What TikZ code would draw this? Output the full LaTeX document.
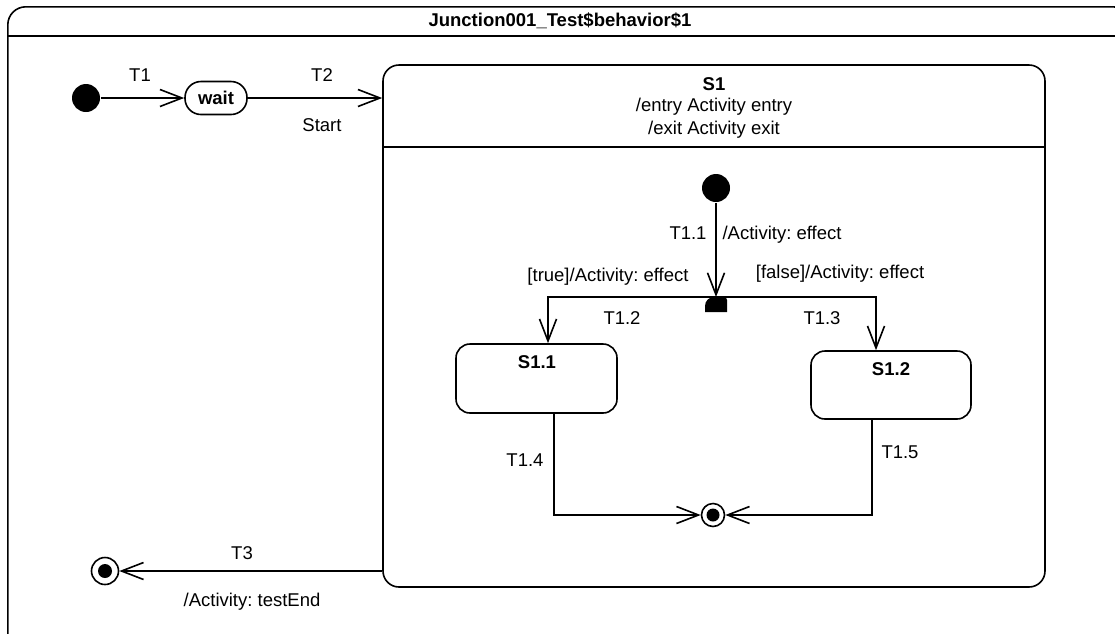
\documentclass[tikz,border=0pt]{standalone}
\usepackage{fontspec}
\setmainfont{Liberation Sans}
\frenchspacing
\usetikzlibrary{arrows.meta}
\begin{document}
\begin{tikzpicture}[x=1pt,y=-1pt,
  line width=1.6pt,
  every node/.style={font=\fontsize{18.5}{22}\selectfont, inner sep=0pt},
  lbl/.style={},
  blbl/.style={font=\fontsize{18.5}{22}\selectfont\bfseries},
  tr/.style={-{Straight Barb[length=22pt,width=17pt,line width=1.6pt]}},
  initial/.style={circle, fill, minimum size=28pt},
  finalst/.style={circle, draw, fill=white, minimum size=#1},
  statebox/.style={draw, rounded corners=14pt}
]
\clip (0,0) rectangle (1115,633);
% outer frame
\node[draw, rounded corners=18pt, minimum width=1123pt, minimum height=644pt, anchor=north west] (frame) at (7,6) {};
\draw (7,36) -- (1130,36);
\node[blbl] (title) at (560,21) {Junction001\_Test\$behavior\$1};

% top level states
\node[initial] (i0) at (86,98) {};
\node[statebox, rounded corners=16pt, minimum width=62pt, minimum height=33pt, blbl] (wait) at (216,98) {wait};
\node[statebox, rounded corners=16pt, minimum width=662pt, minimum height=522pt] (s1) at (714,326) {};
\node[blbl] (s1t) at (714,84) {S1};
\node[lbl] (s1en) at (714,107) {/entry Activity entry};
\node[lbl] (s1ex) at (714,130) {/exit Activity exit};
\draw (383,147) -- (1045,147);

\node[finalst=27pt] (f0) at (105,571) {};
\fill (f0.center) circle (7pt);

% T1, T2, T3
\draw[tr] (i0) -- (wait);
\node[lbl] (t1) at (140,75) {T1};
\draw[tr] (wait.east) -- (wait.east -| s1.west);
\node[lbl] (t2) at (322,75) {T2};
\node[lbl] (t2b) at (322,125) {Start};
\draw[tr] (f0 -| s1.west) -- (f0);
\node[lbl] (t3) at (242,553) {T3};
\node[lbl] (t3b) at (252,602) {/Activity: testEnd};

% inner region
\node[initial] (i1) at (716,188) {};
\coordinate (junc) at (716,297);
\node[statebox, minimum width=161pt, minimum height=69pt] (s11) at (536.5,378.5) {};
\node[blbl] (s11t) at (537,362) {S1.1};
\node[statebox, minimum width=160pt, minimum height=68pt] (s12) at (891,385) {};
\node[blbl] (s12t) at (891,369) {S1.2};
\node[finalst=23pt] (f1) at (713,515) {};
\fill (f1.center) circle (6.5pt);

\draw[tr] (i1) -- (junc);
\node[lbl] (t11) at (688,233) {T1.1};
\node[lbl] (t11b) at (782,235) {/Activity: effect};

\draw[tr] (junc) -| ([xshift=11.5pt]s11.north);
\node[lbl] (t12) at (622,318) {T1.2};
\node[lbl] (t12b) at (608,277) {[true]/Activity: effect};
\draw[tr] (junc) -| ([xshift=-15pt]s12.north);
\node[lbl] (t13) at (822,318) {T1.3};
\node[lbl] (t13b) at (840,274) {[false]/Activity: effect};

\fill[rounded corners=9pt] (705,312) -- (705,297) -- (716,297) [rounded corners=3pt] -- (727,297) [sharp corners] -- (727,312) -- cycle;

\draw[tr] ([xshift=17.5pt]s11.south) |- (f1);
\node[lbl] (t14) at (525,460) {T1.4};
\draw[tr] ([xshift=-19pt]s12.south) |- (f1);
\node[lbl] (t15) at (900,452) {T1.5};
\end{tikzpicture}
\end{document}
